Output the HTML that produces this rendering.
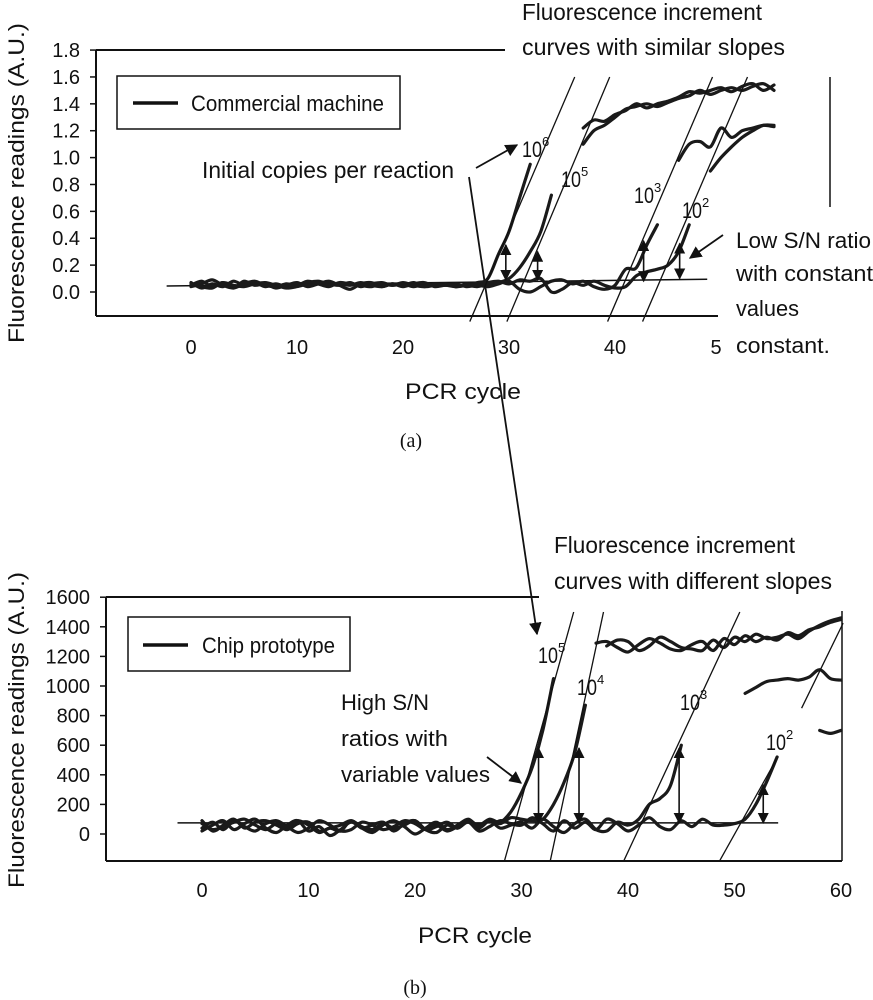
<!DOCTYPE html>
<html><head><meta charset="utf-8"><style>
html,body{margin:0;padding:0;background:#fff;}
svg{display:block;}
.n{font-family:"Liberation Sans Narrow","Liberation Sans",sans-serif;fill:#111;}
.r{font-family:"Liberation Sans",sans-serif;fill:#111;}
.s{font-family:"Liberation Serif",serif;fill:#111;}
</style></head><body>
<svg id="fig" width="873" height="1000" viewBox="0 0 873 1000" xmlns="http://www.w3.org/2000/svg">
<defs><marker id="ah" viewBox="0 0 10 10" refX="9" refY="5" markerWidth="7" markerHeight="7" orient="auto-start-reverse"><path d="M0,0 L10,5 L0,10 z" fill="#111"/></marker></defs>
<g>
<line x1="96" y1="50" x2="505" y2="50" stroke="#111" stroke-width="2"/>
<line x1="96" y1="50" x2="96" y2="316" stroke="#111" stroke-width="2"/>
<line x1="96" y1="316" x2="718" y2="316" stroke="#111" stroke-width="2"/>
<line x1="830" y1="77" x2="830" y2="207" stroke="#111" stroke-width="1.5"/>
<rect x="117" y="76" width="283" height="53" fill="#fff" stroke="#111" stroke-width="1.5"/>
<line x1="133" y1="103" x2="178" y2="103" stroke="#111" stroke-width="3.5"/>
<text x="191" y="111" font-size="22" textLength="193" lengthAdjust="spacingAndGlyphs" class="n">Commercial machine</text>
<text transform="translate(24,183) rotate(-90)" text-anchor="middle" font-size="22" textLength="320" lengthAdjust="spacingAndGlyphs" class="r">Fluorescence readings (A.U.)</text>
<text x="405" y="399" font-size="22" textLength="116" lengthAdjust="spacingAndGlyphs" class="r">PCR cycle</text>
<text x="411" y="447" text-anchor="middle" font-size="20" class="s">(a)</text>
<text x="522" y="20" font-size="23" textLength="240" lengthAdjust="spacingAndGlyphs" class="n">Fluorescence increment</text>
<text x="522" y="55" font-size="23" textLength="263" lengthAdjust="spacingAndGlyphs" class="n">curves with  similar slopes</text>
<text x="202" y="178" font-size="23" textLength="252" lengthAdjust="spacingAndGlyphs" class="n">Initial copies per reaction</text>
<text x="522" y="157" font-size="22" class="n"><tspan textLength="20" lengthAdjust="spacingAndGlyphs">10</tspan><tspan dy="-11" font-size="13">6</tspan></text>
<text x="561" y="187" font-size="22" class="n"><tspan textLength="20" lengthAdjust="spacingAndGlyphs">10</tspan><tspan dy="-11" font-size="13">5</tspan></text>
<text x="634" y="203" font-size="22" class="n"><tspan textLength="20" lengthAdjust="spacingAndGlyphs">10</tspan><tspan dy="-11" font-size="13">3</tspan></text>
<text x="682" y="218" font-size="22" class="n"><tspan textLength="20" lengthAdjust="spacingAndGlyphs">10</tspan><tspan dy="-11" font-size="13">2</tspan></text>
<text x="736" y="248" font-size="22" textLength="135" lengthAdjust="spacingAndGlyphs" class="n">Low S/N ratio</text>
<text x="736" y="281" font-size="22" textLength="137" lengthAdjust="spacingAndGlyphs" class="n">with constant</text>
<text x="736" y="316" font-size="22" textLength="63" lengthAdjust="spacingAndGlyphs" class="n">values</text>
<text x="736" y="353" font-size="22" textLength="94" lengthAdjust="spacingAndGlyphs" class="n">constant.</text>
<line x1="476" y1="168" x2="517" y2="145" stroke="#111" stroke-width="1.8" marker-end="url(#ah)"/>
<line x1="723" y1="235" x2="690" y2="258" stroke="#111" stroke-width="1.8" marker-end="url(#ah)"/>
</g>
<g>
<line x1="106" y1="597" x2="539" y2="597" stroke="#111" stroke-width="2"/>
<line x1="106" y1="597" x2="106" y2="861" stroke="#111" stroke-width="2"/>
<line x1="106" y1="861" x2="842" y2="861" stroke="#111" stroke-width="2"/>
<line x1="842" y1="611" x2="842" y2="861" stroke="#111" stroke-width="1.5"/>
<rect x="128" y="617" width="222" height="54" fill="#fff" stroke="#111" stroke-width="1.5"/>
<line x1="143" y1="645" x2="188" y2="645" stroke="#111" stroke-width="3.5"/>
<text x="202" y="653" font-size="22" textLength="133" lengthAdjust="spacingAndGlyphs" class="n">Chip prototype</text>
<text transform="translate(24,730) rotate(-90)" text-anchor="middle" font-size="22" textLength="316" lengthAdjust="spacingAndGlyphs" class="r">Fluorescence readings (A.U.)</text>
<text x="418" y="943" font-size="22" textLength="114" lengthAdjust="spacingAndGlyphs" class="r">PCR cycle</text>
<text x="415" y="994" text-anchor="middle" font-size="20" class="s">(b)</text>
<text x="554" y="553" font-size="23" textLength="241" lengthAdjust="spacingAndGlyphs" class="n">Fluorescence increment</text>
<text x="554" y="589" font-size="23" textLength="278" lengthAdjust="spacingAndGlyphs" class="n">curves with different slopes</text>
<text x="538" y="663" font-size="22" class="n"><tspan textLength="20" lengthAdjust="spacingAndGlyphs">10</tspan><tspan dy="-11" font-size="13">5</tspan></text>
<text x="577" y="695" font-size="22" class="n"><tspan textLength="20" lengthAdjust="spacingAndGlyphs">10</tspan><tspan dy="-11" font-size="13">4</tspan></text>
<text x="680" y="710" font-size="22" class="n"><tspan textLength="20" lengthAdjust="spacingAndGlyphs">10</tspan><tspan dy="-11" font-size="13">3</tspan></text>
<text x="766" y="750" font-size="22" class="n"><tspan textLength="20" lengthAdjust="spacingAndGlyphs">10</tspan><tspan dy="-11" font-size="13">2</tspan></text>
<text x="341" y="710" font-size="22" textLength="88" lengthAdjust="spacingAndGlyphs" class="n">High S/N</text>
<text x="341" y="746" font-size="22" textLength="107" lengthAdjust="spacingAndGlyphs" class="n">ratios with</text>
<text x="341" y="782" font-size="22" textLength="149" lengthAdjust="spacingAndGlyphs" class="n">variable values</text>
<line x1="487" y1="757" x2="521" y2="783" stroke="#111" stroke-width="1.8" marker-end="url(#ah)"/>
</g>
<line x1="469" y1="177" x2="537" y2="634" stroke="#111" stroke-width="1.8" marker-end="url(#ah)"/>
<g id="plotA"></g><g id="plotB"></g>
</svg>
<script>
// ---- Panel (a) data ----
const aYTicks = [0.0,0.2,0.4,0.6,0.8,1.0,1.2,1.4,1.6,1.8];
const aYTickLabels = ["0.0","0.2","0.4","0.6","0.8","1.0","1.2","1.4","1.6","1.8"];
const aXTicks = [0,10,20,30,40];
const aXTickLabels = ["0","10","20","30","40"];
const aS6 = [0.07,0.03,0.06,0.04,0.08,0.05,0.07,0.04,0.06,0.04,0.05,0.07,0.08,0.06,0.05,0.07,0.04,0.06,0.07,0.05,0.06,0.04,0.06,0.05,0.06,0.04,0.05,0.07,0.1,0.28,0.45,0.7,0.95,null,null,null,null,1.22,1.28,1.27,1.32,1.35,1.4,1.37,1.4,1.42,1.45,1.49,1.48,1.5,1.52,1.49,1.53,1.55,1.5,1.54];
const aS5 = [0.05,0.08,0.04,0.07,0.03,0.08,0.05,0.06,0.03,0.05,0.07,0.04,0.06,0.08,0.05,0.02,0.06,0.07,0.04,0.06,0.05,0.07,0.04,0.05,0.06,0.04,0.05,0.04,0.06,0.07,0.1,0.18,0.3,0.45,0.72,null,null,1.1,1.2,1.24,1.3,1.36,1.38,1.4,1.38,1.41,1.44,1.46,1.5,1.47,1.5,1.52,1.5,1.53,1.55,1.5];
const aS3 = [0.04,0.06,0.09,0.05,0.03,0.06,0.08,0.05,0.04,0.06,0.05,0.08,0.06,0.04,0.07,0.06,0.05,0.04,0.06,0.05,0.07,0.05,0.04,0.06,0.05,0.06,0.04,0.05,0.04,0.06,0.08,0.02,0.0,0.04,0.08,0.09,0.06,0.08,0.04,0.02,0.05,0.17,0.18,0.35,0.5,null,0.98,1.1,1.12,1.08,1.22,1.15,1.2,1.22,1.24,1.23];
const aS2 = [0.06,0.04,0.03,0.07,0.05,0.04,0.06,0.07,0.05,0.03,0.04,0.06,0.07,0.05,0.06,0.05,0.07,0.05,0.04,0.06,0.04,0.06,0.07,0.04,0.05,0.04,0.06,0.05,0.07,0.08,0.06,0.09,0.08,0.1,0.0,0.02,0.07,0.05,0.08,0.05,0.03,0.04,0.12,0.15,0.17,0.2,0.3,0.5,null,0.9,1.0,1.08,1.15,1.2,1.24,1.24];
const aBaseline = [[-2.3,0.045],[48.7,0.095]];
const aTangents = [[[26.3,-0.22],[36.2,1.6]],[[29.8,-0.22],[39.5,1.6]],[[39.3,-0.22],[49.2,1.6]],[[42.6,-0.22],[52.5,1.6]]];
const aArrows = [[29.7,0.35,0.09],[32.7,0.3,0.09],[42.7,0.38,0.08],[46.1,0.36,0.1]];
// ---- Panel (b) data ----
const bYTicks = [0,200,400,600,800,1000,1200,1400,1600];
const bYTickLabels = ["0","200","400","600","800","1000","1200","1400","1600"];
const bXTicks = [0,10,20,30,40,50,60];
const bXTickLabels = ["0","10","20","30","40","50","60"];
const bS5 = [90,20,60,100,40,80,90,60,30,70,80,20,40,60,90,50,30,70,40,60,90,30,50,80,40,90,60,100,80,150,280,450,700,1050,null,null,null,1290,1300,1260,1230,1280,1320,1290,1250,1240,1280,1300,1240,1320,1280,1340,1300,1330,1310,1360,1340,1380,1400,1430,1450];
const bS4 = [40,80,30,90,50,20,70,90,50,10,40,90,60,20,30,80,60,30,50,90,70,30,60,20,50,80,40,90,70,110,100,90,100,200,350,550,870,null,1270,1310,1300,1240,1270,1330,1300,1260,1250,1240,1310,1260,1330,1300,1350,1320,1330,1350,1320,1370,1410,1440,1460];
const bS3 = [20,60,90,30,70,100,40,10,60,90,20,50,-10,30,80,40,10,60,90,50,0,40,80,30,60,100,50,90,40,60,80,40,100,50,10,70,100,30,20,80,60,100,200,240,330,600,null,null,null,null,null,950,990,1030,1040,1050,1040,1060,1110,1050,1040];
const bS2 = [70,30,50,80,100,60,30,70,50,90,60,10,40,20,90,40,60,80,20,70,90,30,10,60,40,80,20,50,90,70,60,110,70,20,90,40,80,30,100,70,20,60,110,50,30,90,50,100,60,60,70,100,200,350,520,null,null,null,700,680,700];
const bBaseline = [[-2.3,75],[54.1,75]];
const bTangents = [[[28.4,-182],[34.9,1500]],[[32.7,-182],[37.7,1500]],[[39.6,-182],[50.5,1500]],[[48.6,-182],[53.9,500]],[[56.3,850],[60.2,1425]]];
const bArrows = [[31.6,580,75],[35.4,580,75],[44.8,580,75],[52.7,330,75]];

const NS = "http://www.w3.org/2000/svg";
function mk(tag, attrs, parent){const e=document.createElementNS(NS,tag);for(const k in attrs)e.setAttribute(k,attrs[k]);parent.appendChild(e);return e;}
function smoothPath(pts){
  if(pts.length<2) return "";
  let d="M"+pts[0][0].toFixed(1)+","+pts[0][1].toFixed(1);
  for(let i=0;i<pts.length-1;i++){
    const p0=pts[i-1]||pts[i],p1=pts[i],p2=pts[i+1],p3=pts[i+2]||p2;
    const c1=[p1[0]+(p2[0]-p0[0])/6,p1[1]+(p2[1]-p0[1])/6];
    const c2=[p2[0]-(p3[0]-p1[0])/6,p2[1]-(p3[1]-p1[1])/6];
    d+=" C"+c1[0].toFixed(1)+","+c1[1].toFixed(1)+" "+c2[0].toFixed(1)+","+c2[1].toFixed(1)+" "+p2[0].toFixed(1)+","+p2[1].toFixed(1);
  }
  return d;
}
function drawPanel(g, cfg){
  const xf=cfg.xf, yf=cfg.yf;
  cfg.yTicks.forEach((v,i)=>{
    const t=mk("line",{x1:cfg.axisX-6,x2:cfg.axisX,y1:yf(v),y2:yf(v),stroke:"#111","stroke-width":1.5},g);
    
    
    const l=mk("text",{x:cfg.labelX,y:yf(v)+7,"text-anchor":"end","font-size":20,class:"n"},g);
    l.textContent=cfg.yLabels[i];
    
    
  });
  cfg.xTicks.forEach((c,i)=>{
    const l=mk("text",{x:xf(c),y:cfg.xLabelY,"text-anchor":"middle","font-size":20,class:"n"},g);
    l.textContent=cfg.xLabels[i];
    
    
  });
  const bl=mk("line",{x1:xf(cfg.baseline[0][0]),y1:yf(cfg.baseline[0][1]),x2:xf(cfg.baseline[1][0]),y2:yf(cfg.baseline[1][1]),stroke:"#111","stroke-width":1.5},g);
  
  
  cfg.series.forEach((s,si)=>{
    let seg=[];
    const segs=[];
    s.forEach((v,c)=>{ if(v===null){ if(seg.length) segs.push(seg); seg=[]; } else seg.push([xf(c),yf(v)]); });
    if(seg.length) segs.push(seg);
    segs.forEach(pts=>{
      const p=mk("path",{d:smoothPath(pts),fill:"none",stroke:"#1a1a1a","stroke-width":3.2,"stroke-linejoin":"round","stroke-linecap":"round"},g);
      
      
    });
  });
  cfg.tangents.forEach(t=>{
    const l=mk("line",{x1:xf(t[0][0]),y1:yf(t[0][1]),x2:xf(t[1][0]),y2:yf(t[1][1]),stroke:"#111","stroke-width":1.3},g);
    
    
  });
  cfg.arrows.forEach(a=>{
    const l=mk("line",{x1:xf(a[0]),y1:yf(a[2]),x2:xf(a[0]),y2:yf(a[1]),stroke:"#111","stroke-width":1.6,"marker-start":"url(#ah)","marker-end":"url(#ah)"},g);
    
    
  });
}
drawPanel(document.getElementById("plotA"),{
  xf:c=>191+10.6*c, yf:v=>292-134.4*v, axisX:96, labelX:80, xLabelY:354,
  yTicks:aYTicks, yLabels:aYTickLabels, xTicks:aXTicks, xLabels:aXTickLabels,
  baseline:aBaseline, series:[aS6,aS5,aS3,aS2], names:["curve-a-1e6","curve-a-1e5","curve-a-1e3","curve-a-1e2"],
  tangents:aTangents, arrows:aArrows});
drawPanel(document.getElementById("plotB"),{
  xf:c=>202+10.65*c, yf:v=>834-0.148*v, axisX:106, labelX:90, xLabelY:897,
  yTicks:bYTicks, yLabels:bYTickLabels, xTicks:bXTicks, xLabels:bXTickLabels,
  baseline:bBaseline, series:[bS5,bS4,bS3,bS2], names:["curve-b-1e5","curve-b-1e4","curve-b-1e3","curve-b-1e2"],
  tangents:bTangents, arrows:bArrows});
const five=mk("text",{x:716,y:354,"text-anchor":"middle","font-size":20,class:"n"},document.getElementById("plotA"));
five.textContent="5";


</script>
</body></html>
